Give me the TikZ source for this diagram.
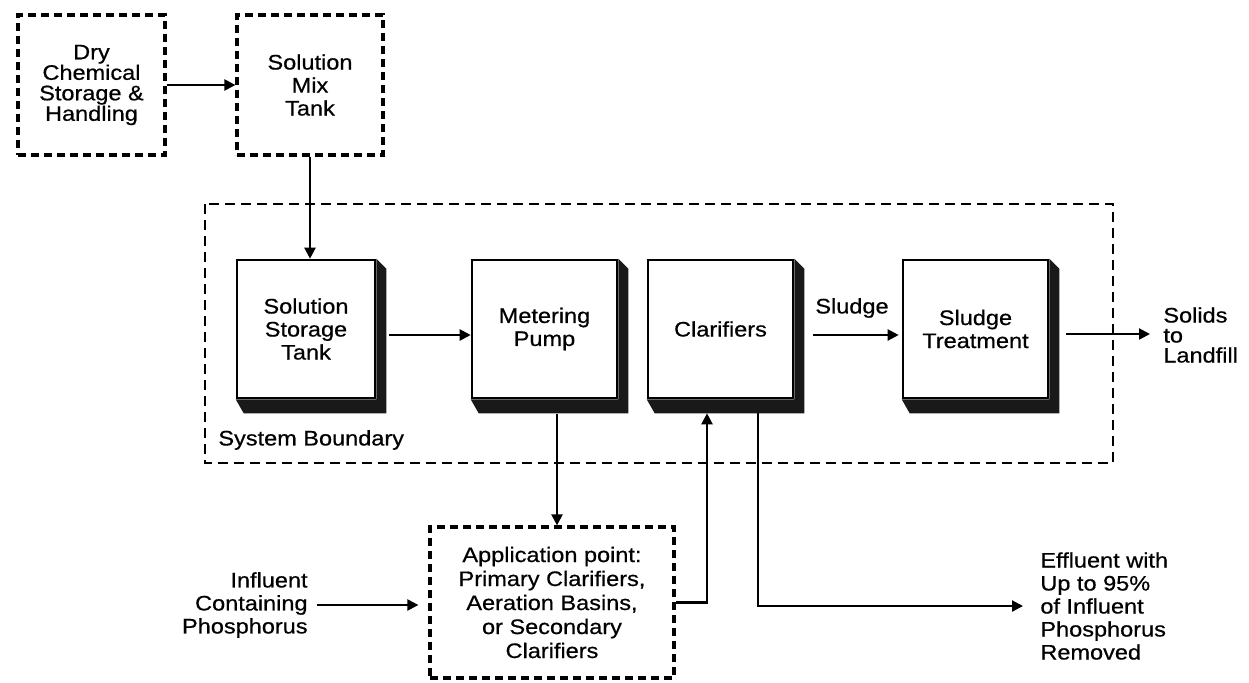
\documentclass[tikz,border=0pt]{standalone}
\usepackage{fontspec}
\setmainfont[FakeStretch=1.12,FakeBold=0.6]{Liberation Sans}
\usetikzlibrary{arrows.meta}

% shadow on the right and bottom of a process unit
\newcommand{\unitshade}[1]{%
  \fill[black!90] (#1.north east) -- ++(10,10) -- ([shift={(10,14)}]#1.south east)
    -- ([shift={(8,14)}]#1.south west) -- (#1.south west) -- (#1.south east) -- cycle;}

\begin{document}
\begin{tikzpicture}[x=0.5pt,y=-0.5pt,font=\fontsize{10.5}{11.5}\selectfont,
  flow/.style={draw,line width=1.1pt,-{Triangle[length=5.5pt,width=5.5pt]}},
  feed/.style={draw,line width=1.6pt,dash pattern=on 4pt off 2.5pt,align=center,inner sep=2pt},
  unit/.style={draw,line width=1.3pt,fill=white,minimum width=72.5pt,minimum height=69pt,align=center,inner sep=2pt},
  bound/.style={draw,line width=1pt,dash pattern=on 5pt off 3pt},
  lbl/.style={inner sep=0pt}]
\useasboundingbox (0,0) rectangle (1249,682);

% chemical feed outside the boundary
\node[feed,minimum width=73.5pt,minimum height=70pt,font=\fontsize{10.5}{10.25}\selectfont] (dry) at (91.5,85) {Dry\\Chemical\\Storage \&\\Handling};
\node[feed,minimum width=73pt,minimum height=70pt] (mix) at (310,85) {Solution\\Mix\\Tank};

% system boundary
\draw[bound] (205,204) rectangle (1113,463);
\node[lbl,anchor=west] (sysb) at (218,440) {System Boundary};

% process units
\node[unit,minimum width=69pt] (store) at (306,329) {Solution\\Storage\\Tank};
\node[unit] (pump) at (544.5,329) {Metering\\Pump};
\node[unit] (clar) at (720.5,329) {Clarifiers};
\node[unit] (sltr) at (975.5,329) {Sludge\\Treatment};
\foreach \u in {store,pump,clar,sltr}
  \unitshade{\u};

% application point
\node[feed,minimum width=122pt,minimum height=75.5pt,font=\fontsize{10.5}{12}\selectfont] (app) at (552,602.5) {Application point:\\Primary Clarifiers,\\Aeration Basins,\\or Secondary\\Clarifiers};

% outside texts
\node[lbl,align=right,anchor=east] (infl) at (308,605) {Influent\\Containing\\Phosphorus};
\node[lbl,align=left,anchor=west] (effl) at (1040,606) {Effluent with\\Up to 95\%\\of Influent\\Phosphorus\\Removed};
\node[lbl,align=left,anchor=west,font=\fontsize{10.5}{10}\selectfont] (solid) at (1163,335) {Solids\\to\\Landfill};
\node[lbl] (sllbl) at (852,308) {Sludge};

% connectors
\draw[flow] (dry) -- (mix);
\draw[flow] (mix.south) -- (mix.south |- store.north);
\draw[flow,shorten <=6.5pt] ([yshift=-3pt]store.east) -- ([yshift=-3pt]pump.west);
\draw[flow,shorten <=7.5pt] ([xshift=6.25pt]pump.south) -- ([xshift=6.25pt]pump.south |- app.north);
\draw[flow,shorten >=7pt] (app.east) -| ([xshift=-6.75pt]clar.south);
\draw[flow,shorten <=7pt,shorten >=8.5pt] ([xshift=18.75pt]clar.south) |- (effl.west);
\draw[flow,shorten <=9.5pt,shorten >=1.5pt] ([yshift=-3pt]clar.east) -- ([yshift=-3pt]sltr.west);
\draw[flow,shorten <=8.5pt,shorten >=6.5pt] ([yshift=-2.5pt]sltr.east) -- ([yshift=-2.5pt]sltr.east -| solid.west);
\draw[flow,shorten <=4.5pt,shorten >=5pt] (infl.east) -- (app.west |- infl.east);
\end{tikzpicture}
\end{document}
